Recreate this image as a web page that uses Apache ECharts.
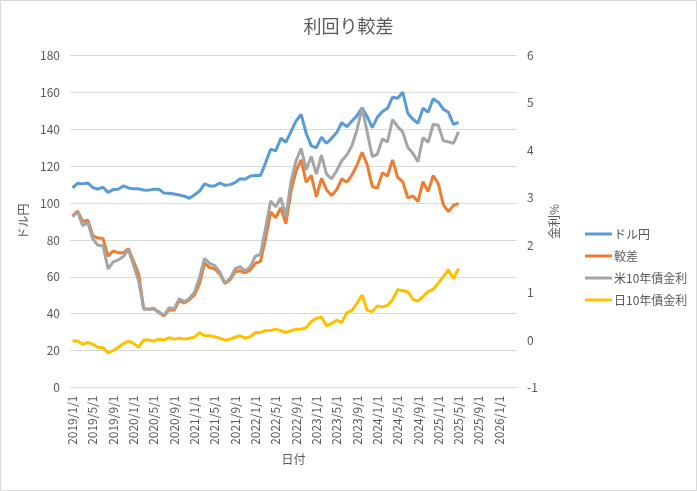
<!DOCTYPE html>
<html>
<head>
<meta charset="utf-8">
<script src="https://cdn.jsdelivr.net/npm/echarts@6/dist/echarts.min.js"></script>
<style>
  html, body { margin: 0; padding: 0; background: #fff; }
  #main { width: 697px; height: 491px; }
</style>
</head>
<body>
<div id="main"></div>
<script>
// 月次の日付 (2019/1 - 2026/4)
var months = [
  '2019/1/1','2019/2/1','2019/3/1','2019/4/1','2019/5/1','2019/6/1','2019/7/1','2019/8/1','2019/9/1','2019/10/1','2019/11/1','2019/12/1',
  '2020/1/1','2020/2/1','2020/3/1','2020/4/1','2020/5/1','2020/6/1','2020/7/1','2020/8/1','2020/9/1','2020/10/1','2020/11/1','2020/12/1',
  '2021/1/1','2021/2/1','2021/3/1','2021/4/1','2021/5/1','2021/6/1','2021/7/1','2021/8/1','2021/9/1','2021/10/1','2021/11/1','2021/12/1',
  '2022/1/1','2022/2/1','2022/3/1','2022/4/1','2022/5/1','2022/6/1','2022/7/1','2022/8/1','2022/9/1','2022/10/1','2022/11/1','2022/12/1',
  '2023/1/1','2023/2/1','2023/3/1','2023/4/1','2023/5/1','2023/6/1','2023/7/1','2023/8/1','2023/9/1','2023/10/1','2023/11/1','2023/12/1',
  '2024/1/1','2024/2/1','2024/3/1','2024/4/1','2024/5/1','2024/6/1','2024/7/1','2024/8/1','2024/9/1','2024/10/1','2024/11/1','2024/12/1',
  '2025/1/1','2025/2/1','2025/3/1','2025/4/1','2025/5/1','2025/6/1','2025/7/1','2025/8/1','2025/9/1','2025/10/1','2025/11/1','2025/12/1',
  '2026/1/1','2026/2/1','2026/3/1','2026/4/1'
];

// ドル円
var usdJpy = [
  108.3, 110.7, 110.4, 110.9, 108.4, 107.5, 108.6, 105.8, 107.3, 107.5, 109.3, 108.2,
  107.8, 107.7, 107.1, 107.0, 107.5, 107.5, 105.4, 105.3, 104.9, 104.4, 103.7, 102.6,
  104.4, 106.5, 110.4, 109.3, 109.3, 110.9, 109.6, 110.0, 111.1, 113.2, 112.9, 114.7,
  114.9, 114.9, 121.8, 129.2, 128.3, 135.1, 133.0, 138.7, 144.5, 148.1, 137.8, 131.0,
  130.0, 135.7, 132.4, 135.1, 138.2, 143.6, 141.4, 144.5, 147.4, 151.7, 146.9, 140.9,
  146.5, 149.6, 151.4, 157.4, 156.8, 160.1, 148.7, 145.4, 143.3, 151.4, 149.2, 156.5,
  154.7, 150.9, 149.2, 142.7, 143.8
];

// 較差 (米 - 日)
var spread = [
  2.62, 2.72, 2.50, 2.53, 2.20, 2.15, 2.14, 1.77, 1.88, 1.84, 1.84, 1.93,
  1.66, 1.40, 0.66, 0.65, 0.67, 0.58, 0.51, 0.64, 0.63, 0.83, 0.78, 0.85,
  0.95, 1.19, 1.62, 1.53, 1.50, 1.39, 1.19, 1.27, 1.44, 1.46, 1.42, 1.48,
  1.62, 1.66, 2.14, 2.70, 2.58, 2.79, 2.45, 3.14, 3.56, 3.80, 3.33, 3.47,
  3.02, 3.41, 3.17, 3.05, 3.17, 3.40, 3.33, 3.48, 3.69, 3.96, 3.70, 3.24,
  3.20, 3.53, 3.46, 3.80, 3.43, 3.34, 3.00, 3.04, 2.92, 3.34, 3.13, 3.47,
  3.30, 2.85, 2.71, 2.84, 2.88
];

// 米10年債金利
var us10y = [
  2.60, 2.71, 2.41, 2.48, 2.13, 2.00, 1.99, 1.50, 1.65, 1.69, 1.76, 1.91,
  1.58, 1.25, 0.66, 0.65, 0.65, 0.60, 0.52, 0.68, 0.66, 0.87, 0.81, 0.88,
  1.01, 1.32, 1.72, 1.62, 1.57, 1.43, 1.20, 1.30, 1.50, 1.55, 1.46, 1.55,
  1.77, 1.81, 2.36, 2.93, 2.81, 3.00, 2.60, 3.34, 3.78, 4.04, 3.59, 3.87,
  3.50, 3.90, 3.50, 3.40, 3.57, 3.78, 3.90, 4.10, 4.43, 4.90, 4.39, 3.87,
  3.92, 4.24, 4.18, 4.65, 4.50, 4.39, 4.06, 3.94, 3.76, 4.27, 4.17, 4.55,
  4.53, 4.20, 4.18, 4.15, 4.39
];

// 日10年債金利
var jp10y = [
  -0.02, -0.02, -0.09, -0.05, -0.09, -0.15, -0.16, -0.27, -0.22, -0.15, -0.08, -0.02,
  -0.07, -0.15, 0.00, 0.00, -0.02, 0.02, 0.00, 0.05, 0.02, 0.04, 0.02, 0.04,
  0.06, 0.16, 0.09, 0.09, 0.07, 0.04, 0.00, 0.02, 0.06, 0.09, 0.04, 0.07,
  0.16, 0.16, 0.20, 0.20, 0.23, 0.20, 0.16, 0.20, 0.23, 0.23, 0.26, 0.39,
  0.46, 0.48, 0.30, 0.35, 0.42, 0.37, 0.58, 0.62, 0.78, 0.95, 0.63, 0.60,
  0.72, 0.70, 0.73, 0.85, 1.06, 1.04, 1.02, 0.86, 0.82, 0.92, 1.02, 1.07,
  1.20, 1.34, 1.48, 1.30, 1.51
];

var FONT = '"Noto Sans CJK JP", "Noto Sans", sans-serif';
var TXT = '#595959';
var GRID = '#d9d9d9';

var myChart = echarts.init(document.getElementById('main'), null, { renderer: 'canvas' });

var option = {
  backgroundColor: '#fff',
  textStyle: { fontFamily: FONT },
  title: {
    text: '利回り較差',
    left: 'center',
    top: 12,
    textStyle: { fontSize: 18, fontWeight: 'normal', color: TXT, fontFamily: FONT }
  },
  graphic: [{
    type: 'rect',
    shape: { x: 0.5, y: 0.5, width: 696, height: 490 },
    style: { fill: 'none', stroke: GRID, lineWidth: 1 },
    silent: true
  }],
  legend: {
    orient: 'vertical',
    left: 580,
    top: 222,
    icon: 'rect',
    itemWidth: 27,
    itemHeight: 3,
    itemGap: 8,
    textStyle: { fontSize: 12, lineHeight: 14, color: TXT, fontFamily: FONT, padding: [0, 0, 0, -3] },
    data: ['ドル円', '較差', '米10年債金利', '日10年債金利']
  },
  grid: { left: 70, right: 180, top: 55.5, bottom: 103.5 },
  xAxis: {
    type: 'category',
    data: months,
    boundaryGap: true,
    name: '日付',
    nameLocation: 'middle',
    nameGap: 66,
    nameTextStyle: { fontSize: 12, color: TXT, fontFamily: FONT },
    axisLine: { lineStyle: { color: GRID } },
    axisTick: { show: false },
    axisLabel: { interval: 3, rotate: 90, fontSize: 12, color: TXT, margin: 8, fontFamily: FONT }
  },
  yAxis: [{
    type: 'value',
    min: 0, max: 180, interval: 20,
    name: 'ドル円',
    nameLocation: 'middle',
    nameRotate: 90,
    nameGap: 39,
    nameTextStyle: { fontSize: 12, color: TXT, fontFamily: FONT },
    axisLine: { show: false },
    axisTick: { show: false },
    axisLabel: { fontSize: 12, color: TXT, margin: 10, fontFamily: FONT },
    splitLine: { lineStyle: { color: GRID, width: 1 } }
  }, {
    type: 'value',
    min: -1, max: 6, interval: 1,
    name: '金利%',
    nameLocation: 'middle',
    nameRotate: 90,
    nameGap: 30,
    nameTextStyle: { fontSize: 12, color: TXT, fontFamily: FONT },
    axisLine: { show: false },
    axisTick: { show: false },
    axisLabel: { fontSize: 12, color: TXT, margin: 10, fontFamily: FONT },
    splitLine: { show: false }
  }],
  series: [{
    name: 'ドル円', type: 'line', yAxisIndex: 0, data: usdJpy,
    symbol: 'none', lineStyle: { width: 3, color: '#5b9bd5' }, itemStyle: { color: '#5b9bd5' }
  }, {
    name: '較差', type: 'line', yAxisIndex: 1, data: spread,
    symbol: 'none', lineStyle: { width: 3, color: '#ed7d31' }, itemStyle: { color: '#ed7d31' }
  }, {
    name: '米10年債金利', type: 'line', yAxisIndex: 1, data: us10y,
    symbol: 'none', lineStyle: { width: 3, color: '#a5a5a5' }, itemStyle: { color: '#a5a5a5' }
  }, {
    name: '日10年債金利', type: 'line', yAxisIndex: 1, data: jp10y,
    symbol: 'none', lineStyle: { width: 3, color: '#ffc000' }, itemStyle: { color: '#ffc000' }
  }],
  animation: false
};

myChart.setOption(option);
</script>
</body>
</html>
